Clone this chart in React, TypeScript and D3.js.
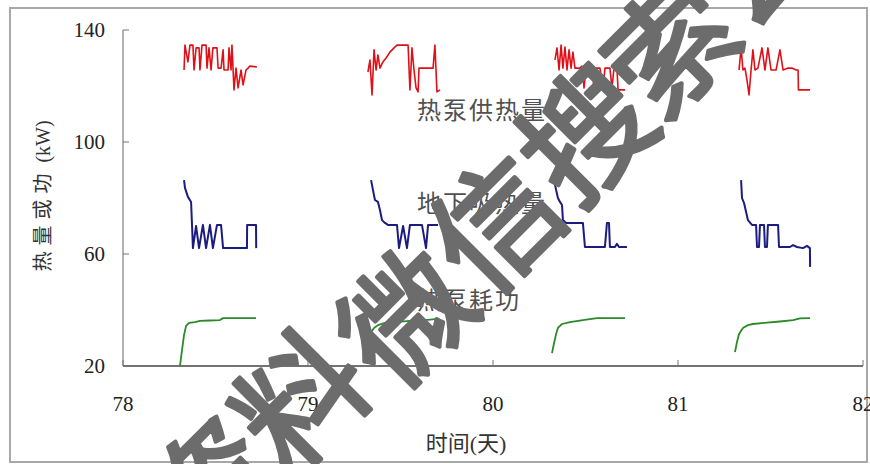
import React from 'react';
import * as d3 from 'd3';

type P = [number, number];

const xTicks = [78, 79, 80, 81, 82];
const yTicks = [20, 60, 100, 140];
const xTitle = '时间(天)';
const yTitleCjk = '热量或功';
const yTitleUnit = ' (kW)';
const seriesLabels = ['热泵供热量', '地下吸热量', '热泵耗功'];
const watermarkChars = ['资', '料', '微', '信', '搜', '索', '公'];

// 热泵供热量 (red)
const supply78: P[] = [[78.33,125.7],[78.335,134.6],[78.351,128.6],[78.362,134.6],[78.378,134.6],[78.384,125.7],[78.395,133.6],[78.411,133.6],[78.416,125.7],[78.427,134.6],[78.449,134.6],[78.454,126.4],[78.465,133.6],[78.476,125.7],[78.486,133.6],[78.508,133.6],[78.514,126.4],[78.53,126.4],[78.541,132.9],[78.546,125.7],[78.568,125.7],[78.573,133.6],[78.584,125.7],[78.589,134.6],[78.6,118.6],[78.611,126.4],[78.622,119.3],[78.638,125.7],[78.649,120.4],[78.665,125.7],[78.676,126.4],[78.686,127.1],[78.724,126.8]];
const supply79: P[] = [[79.324,125.0],[79.335,129.3],[79.346,116.8],[79.357,132.9],[79.368,125.7],[79.378,131.1],[79.389,126.4],[79.405,128.6],[79.422,130.0],[79.443,132.1],[79.465,133.6],[79.481,134.6],[79.541,134.6],[79.551,118.6],[79.562,133.6],[79.573,125.7],[79.584,119.3],[79.595,117.9],[79.6,126.4],[79.676,126.4],[79.686,134.6],[79.697,117.9],[79.714,118.6]];
const supply80: P[] = [[80.335,129.3],[80.346,133.6],[80.357,125.7],[80.368,134.6],[80.378,126.4],[80.389,133.9],[80.4,125.7],[80.411,132.9],[80.422,126.4],[80.432,132.1],[80.443,126.4],[80.47,126.4],[80.481,127.1],[80.492,119.3],[80.503,126.4],[80.535,126.4],[80.546,119.3],[80.557,126.4],[80.578,126.4],[80.595,118.6],[80.605,126.4],[80.632,126.4],[80.643,119.3],[80.654,126.4],[80.67,126.4],[80.676,118.6],[80.714,118.6]];
const supply81: P[] = [[81.33,125.7],[81.341,133.6],[81.351,125.7],[81.362,126.4],[81.373,122.1],[81.384,116.8],[81.395,125.7],[81.405,132.9],[81.416,125.7],[81.432,126.4],[81.454,133.6],[81.47,125.7],[81.486,133.6],[81.503,125.7],[81.53,125.7],[81.551,132.9],[81.568,125.7],[81.595,126.4],[81.616,126.4],[81.638,125.7],[81.649,125.7],[81.651,118.6],[81.714,118.6]];

// 地下吸热量 (blue)
const ground78: P[] = [[78.33,86.4],[78.335,83.6],[78.351,80.4],[78.368,78.6],[78.373,70.4],[78.378,62.1],[78.395,70.0],[78.411,62.1],[78.432,70.4],[78.449,62.1],[78.47,70.4],[78.486,62.1],[78.508,70.4],[78.53,70.4],[78.541,62.1],[78.578,62.1],[78.67,62.1],[78.671,70.4],[78.719,70.4],[78.72,62.1]];
const ground79: P[] = [[79.341,86.4],[79.351,82.9],[79.362,79.3],[79.378,78.6],[79.389,75.7],[79.4,72.1],[79.416,71.1],[79.432,70.4],[79.481,70.4],[79.492,62.1],[79.514,70.0],[79.535,62.1],[79.551,70.4],[79.616,70.4],[79.638,62.1],[79.649,70.4],[79.703,70.4]];
const ground80: P[] = [[80.33,86.4],[80.341,82.9],[80.351,80.0],[80.362,78.6],[80.373,77.5],[80.378,72.1],[80.395,71.1],[80.486,71.1],[80.497,62.5],[80.605,62.5],[80.616,71.1],[80.627,71.1],[80.632,62.5],[80.659,62.5],[80.67,63.6],[80.681,62.5],[80.724,62.5]];
const ground81: P[] = [[81.341,86.4],[81.346,80.0],[81.357,78.2],[81.368,75.0],[81.378,72.1],[81.4,70.4],[81.422,70.4],[81.427,62.5],[81.438,62.5],[81.443,70.4],[81.465,70.4],[81.47,62.5],[81.481,62.5],[81.486,70.4],[81.541,70.4],[81.546,62.5],[81.605,62.5],[81.622,63.2],[81.643,62.5],[81.676,62.1],[81.697,62.9],[81.713,62.1],[81.714,55.4]];

// 热泵耗功 (green)
const power78: P[] = [[78.308,20.0],[78.319,25.7],[78.33,31.1],[78.341,34.3],[78.357,35.4],[78.389,35.7],[78.416,36.1],[78.47,36.25],[78.524,36.4],[78.541,37.1],[78.605,37.1],[78.719,37.1]];
const power79: P[] = [[79.33,30.0],[79.341,32.1],[79.357,33.6],[79.378,34.6],[79.416,35.4],[79.47,35.7],[79.551,36.1],[79.632,36.4],[79.703,36.8]];
const power80: P[] = [[80.319,24.6],[80.33,28.2],[80.341,31.4],[80.351,33.6],[80.373,35.0],[80.416,35.7],[80.486,36.4],[80.562,37.1],[80.643,37.1],[80.714,37.1]];
const power81: P[] = [[81.308,25.0],[81.319,28.6],[81.33,31.4],[81.351,33.6],[81.378,34.6],[81.405,35.0],[81.481,35.5],[81.551,35.9],[81.622,36.4],[81.659,37.0],[81.714,37.1]];

const heatSupply = [supply78, supply79, supply80, supply81];
const groundHeat = [ground78, ground79, ground80, ground81];
const pumpPower = [power78, power79, power80, power81];

const W = 870;
const H = 464;
const plot = { left: 123, right: 863, top: 30, bottom: 366 };

export default function App() {
  const x = d3.scaleLinear().domain([78, 82]).range([plot.left, plot.right]);
  const y = d3.scaleLinear().domain([20, 140]).range([plot.bottom, plot.top]);
  const line = d3.line<P>().x(d => x(d[0])).y(d => y(d[1]));

  const serif = "Liberation Serif, Noto Sans CJK SC";
  const cjk = "Noto Sans CJK SC";

  const wmPos: [number, number][] = [[212, 488], [302, 400], [407, 318], [497, 225], [587, 135], [672, 48], [760, -40]];

  return (
    <svg width={W} height={H} style={{ position: 'absolute', left: 0, top: 0, background: '#fff' }}>
      <rect x={0} y={0} width={W} height={H} fill="#fff" />
      <rect x={10} y={8} width={857} height={454} fill="none" stroke="#a8a8a8" strokeWidth={2} />

      {/* axes */}
      <line x1={plot.left} x2={plot.left} y1={y(140)} y2={plot.bottom} stroke="#9a9a9a" strokeWidth={1.5} />
      <line x1={plot.left} x2={plot.right} y1={plot.bottom} y2={plot.bottom} stroke="#444" strokeWidth={1.5} />
      {yTicks.map(t => (
        <g key={'yt' + t}>
          <line x1={plot.left} x2={plot.left + 6} y1={y(t)} y2={y(t)} stroke="#777" strokeWidth={1} />
          <text x={105} y={y(t)} dy="0.35em" textAnchor="end" fontFamily={serif} fontSize={21} fill="#222">{t}</text>
        </g>
      ))}
      {xTicks.map(t => (
        <g key={'xt' + t}>
          <line x1={x(t)} x2={x(t)} y1={plot.bottom} y2={plot.bottom - 6} stroke="#777" strokeWidth={1} />
          <text x={x(t)} y={411} textAnchor="middle" fontFamily={serif} fontSize={21} fill="#222">{t}</text>
        </g>
      ))}

      {/* axis titles */}
      <text x={466} y={451} textAnchor="middle" fontFamily={serif} fontSize={22} fill="#333">{xTitle}</text>
      <text transform="translate(50,196) rotate(-90)" textAnchor="middle" fontFamily={serif} fontSize={20} fill="#333">
        <tspan letterSpacing={6}>{yTitleCjk}</tspan>
        <tspan>{yTitleUnit}</tspan>
      </text>

      {/* series */}
      {pumpPower.map((seg, i) => (
        <path key={'g' + i} d={line(seg) || ''} fill="none" stroke="#2a8a2a" strokeWidth={1.8} strokeLinejoin="round" />
      ))}
      {groundHeat.map((seg, i) => (
        <path key={'b' + i} d={line(seg) || ''} fill="none" stroke="#1c1c80" strokeWidth={2} strokeLinejoin="round" />
      ))}
      {heatSupply.map((seg, i) => (
        <path key={'r' + i} d={line(seg) || ''} fill="none" stroke="#e01018" strokeWidth={1.6} strokeLinejoin="round" />
      ))}

      {/* series labels */}
      <text x={417} y={119} fontFamily={cjk} fontSize={24} letterSpacing={2} fill="#505050">{seriesLabels[0]}</text>
      <text x={417} y={212} fontFamily={cjk} fontSize={24} letterSpacing={2} fill="#505050">{seriesLabels[1]}</text>
      <text x={417} y={309} fontFamily={cjk} fontSize={24} letterSpacing={2} fill="#505050">{seriesLabels[2]}</text>

      {/* watermark */}
      <g fill="#6c6c6c" stroke="#6c6c6c" strokeWidth={4} strokeLinejoin="round" fontFamily={cjk} fontWeight={400} fontSize={126}>
        {watermarkChars.map((c, i) => (
          <text key={'w' + i} x={0} y={0} dy="0.36em" textAnchor="middle" transform={`translate(${wmPos[i][0]},${wmPos[i][1]}) rotate(-45)`}>{c}</text>
        ))}
      </g>
    </svg>
  );
}
